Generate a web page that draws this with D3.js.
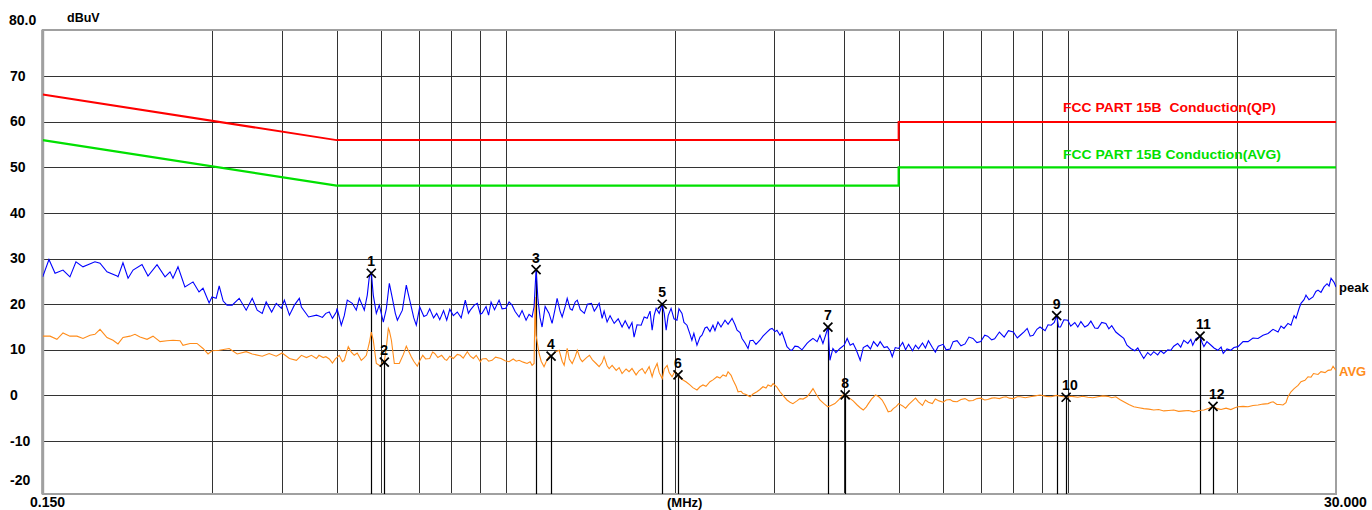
<!DOCTYPE html>
<html lang="en">
<head>
<meta charset="UTF-8">
<title>Conducted Emission - FCC Part 15B</title>
<script src="https://d3js.org/d3.v7.min.js"></script>
<style>
    body { margin: 0; background: #ffffff; overflow: hidden; }
    svg { display: block; }
    .lbl { font-family: "Liberation Sans", Arial, sans-serif; font-weight: bold; fill: #000; }
    .lim { font-family: "Liberation Sans", Arial, sans-serif; font-weight: bold; white-space: pre; }
</style>
</head>
<body>
<div id="chart"></div>
<script>
// ---- data ----
const xGridFreqs = [0.3, 0.4, 0.5, 0.6, 0.7, 0.8, 0.9, 1, 2, 3, 4, 5, 6, 7, 8, 9, 10, 20];
const yTicks = [70, 60, 50, 40, 30, 20, 10, 0, -10];

// FCC limit lines [MHz, dBuV]
const limitQP  = [[0.15, 66], [0.5, 56], [5, 56], [5, 60], [30, 60]];
const limitAVG = [[0.15, 56], [0.5, 46], [5, 46], [5, 50], [30, 50]];

// peak detector trace [MHz, dBuV]
const peakTrace = [
  [0.150,26.0],[0.1539,29.8],[0.1578,26.8],[0.1630,27.5],[0.1677,26.0],[0.1719,29.3],[0.1769,28.2],
  [0.1858,29.3],[0.1897,29.0],[0.1952,27.1],[0.2034,26.2],[0.2042,26.0],[0.2084,29.1],[0.2128,25.7],
  [0.2172,27.5],[0.2253,28.7],[0.2309,26.2],[0.2396,28.7],[0.2476,26.0],[0.2527,27.1],[0.2558,25.7],
  [0.2611,28.2],[0.2686,23.8],[0.2777,24.9],[0.2846,22.7],[0.2893,23.5],[0.2966,20.3],[0.3001,21.6],
  [0.3053,21.3],[0.3091,24.0],[0.3142,20.7],[0.3192,19.8],[0.3260,19.8],[0.3355,21.3],[0.3453,18.7],
  [0.3539,21.3],[0.3612,18.7],[0.3687,18.0],[0.3747,20.5],[0.3832,18.3],[0.3905,20.2],[0.3988,19.1],
  [0.4037,20.9],[0.4122,17.6],[0.4206,19.8],[0.4292,21.3],[0.4329,19.4],[0.4458,17.2],[0.4604,17.6],
  [0.4652,17.4],[0.4718,17.1],[0.4785,18.0],[0.4853,18.3],[0.4916,16.9],[0.4994,18.3],[0.5010,19.1],
  [0.5097,15.4],[0.5160,17.5],[0.5224,20.9],[0.5332,20.2],[0.5420,18.7],[0.5488,21.3],[0.5601,18.7],
  [0.5670,22.0],[0.5717,26.0],[0.5764,26.9],[0.5811,22.0],[0.5884,18.0],[0.5956,19.8],[0.6055,16.1],
  [0.6130,19.0],[0.6206,24.6],[0.6284,21.3],[0.6360,18.0],[0.6414,16.5],[0.6547,18.7],[0.6653,24.2],
  [0.6700,22.5],[0.6790,19.4],[0.6860,17.0],[0.6931,15.4],[0.7029,19.4],[0.7150,17.3],[0.7233,17.6],
  [0.7322,19.0],[0.7440,17.0],[0.7535,18.0],[0.7630,16.6],[0.7750,18.6],[0.7851,16.5],[0.7950,18.9],
  [0.8066,17.5],[0.8199,18.3],[0.8330,17.0],[0.8472,20.9],[0.8580,18.0],[0.8648,18.7],[0.8790,19.8],
  [0.8899,20.2],[0.9009,17.8],[0.9074,18.0],[0.9224,19.5],[0.9320,17.6],[0.9415,20.5],[0.9550,18.8],
  [0.9729,20.9],[0.9850,19.0],[1.000,19.1],[1.0136,20.5],[1.0261,19.8],[1.039,18.4],[1.056,17.2],
  [1.069,18.6],[1.0867,16.5],[1.100,17.8],[1.1137,17.2],[1.123,19.5],[1.1322,27.6],[1.141,21.0],
  [1.151,17.0],[1.1603,15.0],[1.175,19.5],[1.194,18.0],[1.2089,15.8],[1.224,19.0],[1.2341,21.3],
  [1.249,18.5],[1.2599,17.2],[1.276,19.6],[1.2861,21.3],[1.302,19.0],[1.3129,18.7],[1.329,20.5],
  [1.3403,20.9],[1.357,18.8],[1.3797,18.0],[1.397,20.0],[1.4203,20.2],[1.437,18.5],[1.4478,19.1],
  [1.4658,20.2],[1.484,16.9],[1.4961,18.5],[1.5145,16.1],[1.533,17.5],[1.5592,15.8],[1.585,16.8],
  [1.6103,15.0],[1.631,16.4],[1.657,14.7],[1.677,16.0],[1.6914,12.8],[1.712,15.5],[1.7412,15.4],
  [1.763,17.2],[1.7847,16.9],[1.806,18.5],[1.8215,14.3],[1.836,17.5],[1.8514,19.1],[1.875,18.0],
  [1.8981,20.0],[1.914,18.0],[1.929,14.3],[1.945,17.5],[1.9683,19.1],[1.992,16.8],[2.0164,16.5],
  [2.033,19.0],[2.0582,18.0],[2.075,16.0],[2.1008,15.4],[2.126,13.5],[2.1435,12.1],[2.161,13.6],
  [2.1886,11.0],[2.216,12.8],[2.2338,13.2],[2.262,14.8],[2.280,15.0],[2.3082,14.0],[2.3366,15.4],
  [2.356,14.2],[2.3853,16.1],[2.415,15.0],[2.455,16.5],[2.486,15.6],[2.5268,16.9],[2.558,15.5],
  [2.5794,14.3],[2.611,13.8],[2.6322,12.5],[2.665,11.5],[2.698,10.3],[2.720,12.0],[2.7526,12.1],
  [2.787,11.2],[2.8328,12.1],[2.868,13.0],[2.916,13.9],[2.952,14.5],[2.9774,14.7],[3.012,14.0],
  [3.0372,14.3],[3.0748,13.2],[3.1001,13.9],[3.139,12.0],[3.1642,10.7],[3.204,10.0],[3.2294,9.9],
  [3.269,10.8],[3.310,10.7],[3.365,10.0],[3.4348,11.4],[3.477,12.0],[3.5203,12.5],[3.580,11.8],
  [3.6216,13.2],[3.6669,11.4],[3.713,13.5],[3.7422,15.0],[3.773,7.7],[3.8197,10.3],[3.867,9.4],
  [3.9315,10.3],[4.000,11.0],[4.0493,12.5],[4.0996,11.0],[4.1503,11.4],[4.202,10.0],[4.2716,7.7],
  [4.3256,10.5],[4.3988,11.0],[4.455,10.2],[4.5117,11.8],[4.585,10.8],[4.6352,11.8],[4.712,10.5],
  [4.7707,10.7],[4.830,9.8],[4.8708,8.5],[4.931,10.5],[5.000,10.3],[5.083,11.6],[5.1445,10.0],
  [5.208,11.2],[5.293,9.8],[5.3582,11.0],[5.424,10.2],[5.513,11.5],[5.5801,10.4],[5.649,12.0],
  [5.741,10.5],[5.8112,9.5],[5.882,10.8],[6.000,11.2],[6.074,10.0],[6.1737,10.2],[6.251,11.8],
  [6.3521,12.0],[6.455,10.9],[6.5623,11.3],[6.670,12.8],[6.7799,12.5],[6.890,11.6],[7.000,11.8],
  [7.115,13.2],[7.2017,13.0],[7.320,12.2],[7.4094,12.4],[7.5548,13.9],[7.7052,12.8],[7.840,14.2],
  [8.000,13.9],[8.130,12.6],[8.2297,13.2],[8.365,14.0],[8.4664,14.7],[8.570,13.0],[8.676,13.2],
  [8.810,14.5],[8.9226,15.0],[9.110,14.2],[9.220,15.5],[9.3396,15.4],[9.460,16.0],[9.553,17.5],
  [9.630,15.0],[9.7047,15.0],[9.840,16.6],[10.00,16.5],[10.12,15.2],[10.29,16.0],[10.418,15.0],
  [10.55,16.2],[10.72,15.0],[10.854,15.4],[10.99,16.3],[11.17,14.8],[11.308,14.7],[11.49,16.0],
  [11.686,15.8],[11.83,14.6],[11.97,15.3],[12.172,13.9],[12.37,13.2],[12.577,12.5],[12.74,11.0],
  [12.944,10.3],[13.16,9.8],[13.32,10.4],[13.483,9.2],[13.648,8.1],[13.87,9.4],[14.04,8.8],
  [14.218,9.6],[14.45,8.9],[14.63,9.8],[14.815,9.2],[15.06,10.0],[15.244,9.9],[15.432,10.8],
  [15.683,11.4],[15.88,10.6],[16.078,12.1],[16.35,11.4],[16.55,12.3],[16.681,11.0],[16.89,12.4],
  [17.19,13.0],[17.33,11.6],[17.462,10.7],[17.68,11.8],[17.979,11.0],[18.20,10.4],[18.49,9.9],
  [18.737,10.6],[18.90,9.2],[19.20,10.2],[19.50,9.9],[19.75,10.5],[20.08,10.7],[20.50,11.8],
  [20.92,11.8],[21.35,12.6],[21.80,12.5],[22.25,13.2],[22.71,13.6],[23.18,14.5],[23.66,13.9],
  [23.95,15.2],[24.24,14.7],[24.64,15.8],[24.95,15.4],[25.27,17.5],[25.47,16.9],[25.78,19.0],
  [25.99,20.2],[26.32,21.0],[26.53,22.0],[26.86,21.0],[27.30,21.6],[27.63,22.8],[27.87,23.1],
  [28.21,22.6],[28.56,23.8],[28.92,24.5],[29.16,24.0],[29.40,25.7],[29.76,24.8],[30.00,23.8]
];

// average detector trace [MHz, dBuV]
const avgTrace = [
  [0.150,13.0],[0.1546,13.0],[0.1590,12.3],[0.1630,13.7],[0.1677,13.0],[0.1726,13.0],[0.1769,12.5],
  [0.1821,13.2],[0.1858,13.4],[0.1897,14.5],[0.1952,12.7],[0.2001,12.1],[0.2042,11.3],[0.2084,12.7],
  [0.2145,13.0],[0.2189,13.4],[0.2235,12.8],[0.2300,12.3],[0.2357,13.0],[0.2426,11.8],[0.2496,12.0],
  [0.2558,12.1],[0.2633,12.0],[0.2665,11.0],[0.2743,11.4],[0.2822,11.4],[0.2893,10.3],[0.2953,9.1],
  [0.3001,9.8],[0.3091,9.9],[0.3220,10.3],[0.3328,9.1],[0.3453,9.6],[0.3539,9.1],[0.3687,8.6],
  [0.3794,9.2],[0.3905,8.6],[0.4000,9.3],[0.4122,8.1],[0.4241,7.7],[0.4329,8.8],[0.4419,8.3],
  [0.4511,8.8],[0.4604,8.1],[0.4652,8.8],[0.4733,8.3],[0.4785,8.5],[0.4853,8.0],[0.4916,7.1],
  [0.4974,8.0],[0.5055,8.8],[0.5118,7.4],[0.5160,7.7],[0.5245,10.7],[0.5311,9.5],[0.5375,8.8],
  [0.5441,9.3],[0.5532,7.7],[0.5601,8.3],[0.5648,8.8],[0.5717,11.5],[0.5764,13.9],[0.5811,12.1],
  [0.5884,7.0],[0.5991,6.4],[0.6030,7.2],[0.6080,7.5],[0.6130,10.5],[0.6181,14.7],[0.6206,14.2],
  [0.6259,12.1],[0.6335,7.0],[0.6465,7.0],[0.6574,9.0],[0.6653,10.8],[0.6728,9.5],[0.6790,8.5],
  [0.6860,7.5],[0.6959,6.4],[0.7029,7.6],[0.7116,8.8],[0.7200,8.0],[0.7322,8.1],[0.7410,9.5],
  [0.7474,9.2],[0.7570,8.3],[0.7691,8.8],[0.7790,7.9],[0.7851,7.7],[0.7950,8.6],[0.8066,8.1],
  [0.8199,9.0],[0.8300,8.8],[0.8400,8.2],[0.8542,9.6],[0.8648,8.6],[0.8755,8.1],[0.8860,8.8],
  [0.9009,7.4],[0.9074,8.0],[0.9224,8.1],[0.9320,7.5],[0.9453,7.7],[0.9590,8.4],[0.9808,8.1],
  [0.997,7.6],[1.0136,7.4],[1.031,8.0],[1.044,7.5],[1.056,7.7],[1.074,7.3],[1.0911,7.0],
  [1.105,7.4],[1.1137,6.6],[1.123,7.0],[1.1276,21.6],[1.1322,13.2],[1.1462,9.2],[1.156,7.5],
  [1.1697,6.3],[1.184,7.8],[1.194,8.5],[1.2089,8.8],[1.224,9.5],[1.2443,9.9],[1.260,7.5],
  [1.2702,6.6],[1.2861,10.3],[1.297,8.0],[1.3129,7.0],[1.329,8.5],[1.3403,9.9],[1.357,8.0],
  [1.3683,7.4],[1.392,8.3],[1.4088,8.8],[1.426,7.8],[1.4478,7.0],[1.4658,6.3],[1.484,7.2],
  [1.4961,8.5],[1.5145,6.5],[1.5273,5.9],[1.546,6.6],[1.572,5.5],[1.591,6.1],[1.6103,4.8],
  [1.637,5.8],[1.657,5.2],[1.677,5.9],[1.7053,4.5],[1.726,5.4],[1.7483,5.9],[1.770,4.8],
  [1.7993,6.3],[1.8215,4.1],[1.836,5.6],[1.859,7.0],[1.875,5.0],[1.8981,3.7],[1.914,5.8],
  [1.9369,6.6],[1.953,5.0],[1.9762,4.1],[2.000,5.3],[2.0247,4.5],[2.041,3.8],[2.0667,3.4],
  [2.092,3.0],[2.126,2.3],[2.152,1.7],[2.1886,1.2],[2.216,1.9],[2.243,2.3],[2.271,2.0],
  [2.3082,3.0],[2.337,3.4],[2.3756,4.1],[2.405,3.8],[2.4348,4.5],[2.466,4.2],[2.486,5.2],
  [2.517,4.4],[2.537,3.4],[2.569,2.0],[2.590,0.8],[2.622,0.9],[2.643,0.4],[2.676,0.2],
  [2.7204,-0.3],[2.753,0.3],[2.7981,0.8],[2.833,1.3],[2.8679,1.9],[2.904,1.6],[2.928,2.3],
  [2.965,2.0],[2.9897,2.6],[3.037,1.8],[3.0748,0.8],[3.113,0.0],[3.1642,-1.0],[3.204,-1.5],
  [3.2426,-1.8],[3.296,-1.2],[3.3375,-0.7],[3.380,-0.8],[3.4348,-0.3],[3.477,0.5],[3.5203,1.5],
  [3.565,0.3],[3.6216,-1.0],[3.682,-1.8],[3.7422,-2.5],[3.788,-2.2],[3.8511,-1.8],[3.915,-0.9],
  [3.9801,0.1],[4.0163,0.2],[4.0493,-0.2],[4.0996,-0.7],[4.150,-1.2],[4.2188,-2.1],[4.2716,-2.7],
  [4.3256,-3.2],[4.380,-2.5],[4.4172,-1.8],[4.474,-0.8],[4.5502,0.1],[4.610,-0.3],[4.6734,-1.0],
  [4.732,-2.2],[4.7905,-3.6],[4.850,-3.4],[4.8911,-2.9],[4.953,-2.4],[5.000,-1.8],[5.083,-2.3],
  [5.1445,-2.8],[5.208,-2.0],[5.293,-1.2],[5.3582,-0.6],[5.424,-1.4],[5.513,-2.2],[5.5801,-1.0],
  [5.649,-1.5],[5.741,-1.8],[5.8112,-0.8],[5.900,-1.2],[6.000,-1.5],[6.074,-1.0],[6.1737,-0.9],
  [6.251,-1.3],[6.3521,-1.4],[6.455,-0.9],[6.5623,-0.7],[6.670,-1.2],[6.7799,-1.1],[6.890,-0.7],
  [7.000,-0.6],[7.115,-1.0],[7.2017,-0.9],[7.320,-0.6],[7.4094,-0.5],[7.5548,-0.7],[7.670,-0.4],
  [7.7664,-0.3],[7.870,-0.6],[8.000,-0.7],[8.130,-0.3],[8.2297,-0.3],[8.400,-0.5],[8.570,-0.3],
  [8.750,-0.1],[8.9226,0.1],[9.150,-0.2],[9.3396,-0.3],[9.536,0.0],[9.7047,-0.2],[9.950,-0.4],
  [10.17,-0.2],[10.418,-0.4],[10.63,-0.2],[10.854,-0.4],[11.08,-0.5],[11.308,-0.3],[11.54,-0.1],
  [11.781,-0.2],[11.97,-0.5],[12.172,-0.3],[12.37,-0.9],[12.577,-1.4],[12.84,-2.0],[13.103,-2.5],
  [13.38,-2.7],[13.648,-2.9],[13.93,-3.0],[14.218,-3.2],[14.51,-3.1],[14.815,-3.4],[15.12,-3.3],
  [15.432,-3.2],[15.75,-3.5],[16.078,-3.4],[16.41,-3.3],[16.743,-3.6],[17.118,-3.3],[17.462,-3.2],
  [17.83,-2.8],[18.127,-2.4],[18.43,-2.9],[18.737,-3.1],[19.12,-2.8],[19.50,-3.1],[19.83,-2.7],
  [20.08,-2.5],[20.50,-2.4],[20.92,-2.5],[21.35,-2.2],[21.80,-2.1],[22.25,-1.9],[22.71,-1.8],
  [23.00,-1.5],[23.19,-1.4],[23.55,-2.0],[23.83,-2.0],[24.14,-2.1],[24.44,-1.6],[24.64,-0.3],
  [24.95,0.8],[25.27,1.5],[25.68,2.2],[25.99,3.0],[26.42,3.3],[26.75,4.1],[27.08,4.0],
  [27.36,4.8],[27.87,4.6],[28.21,5.2],[28.68,5.0],[29.04,5.5],[29.40,5.6],[29.64,6.4],[30.00,5.5]
];

// measurement markers: number, frequency (MHz), level (dBuV)
const markerNo    = [1, 2, 3, 4, 5, 6, 7, 8, 9, 10, 11, 12];
const markerFreq  = [0.5764, 0.6080, 1.1322, 1.2039, 1.8981, 2.0247, 3.7422, 4.0163, 9.553, 9.93, 17.19, 18.127];
const markerLevel = [26.8, 7.3, 27.6, 8.6, 20.0, 4.5, 15.0, 0.1, 17.5, -0.4, 13.0, -2.4];

const limitNames = ["FCC PART 15B  Conduction(QP)", "FCC PART 15B Conduction(AVG)"];

// ---- layout ----
const W = 1372, H = 510;
const plot = { left: 42.7, right: 1336, top: 30, bottom: 494 };

const svg = d3.select("#chart").append("svg")
    .attr("width", W).attr("height", H);

const x = d3.scaleLog().domain([0.15, 30]).range([plot.left, plot.right]);
const y = d3.scaleLinear().domain([-20, 80]).range([486.6, 30.7]);

svg.append("defs").append("clipPath").attr("id", "plotclip")
  .append("rect")
    .attr("x", plot.left).attr("y", plot.top)
    .attr("width", plot.right - plot.left).attr("height", plot.bottom - plot.top);

// grid
const grid = svg.append("g").attr("stroke", "#333").attr("stroke-width", 1);
grid.selectAll("line.v").data(xGridFreqs).enter().append("line")
    .attr("x1", d => Math.round(x(d)) + 0.5).attr("x2", d => Math.round(x(d)) + 0.5)
    .attr("y1", plot.top).attr("y2", plot.bottom);
grid.selectAll("line.h").data(yTicks).enter().append("line")
    .attr("x1", plot.left).attr("x2", plot.right)
    .attr("y1", d => Math.round(y(d)) + 0.5).attr("y2", d => Math.round(y(d)) + 0.5);

// frame
svg.append("rect")
    .attr("x", plot.left).attr("y", plot.top)
    .attr("width", plot.right - plot.left).attr("height", plot.bottom - plot.top)
    .attr("fill", "none").attr("stroke", "#a0a0a0").attr("stroke-width", 2);
svg.append("line")
    .attr("x1", plot.left).attr("x2", plot.left).attr("y1", plot.top).attr("y2", plot.bottom)
    .attr("stroke", "#a0a0a0").attr("stroke-width", 3);

const line = d3.line().x(d => x(d[0])).y(d => y(d[1]));
const traces = svg.append("g").attr("clip-path", "url(#plotclip)");

traces.append("path").datum(limitAVG).attr("d", line)
    .attr("fill", "none").attr("stroke", "#00e000").attr("stroke-width", 2.2);
traces.append("path").datum(limitQP).attr("d", line)
    .attr("fill", "none").attr("stroke", "#ff0000").attr("stroke-width", 2);

// marker drop lines
const markers = markerNo.map((n, i) => ({ n: n, f: markerFreq[i], v: markerLevel[i] }));
traces.selectAll("line.mk").data(markers).enter().append("line")
    .attr("x1", d => Math.round(x(d.f)) + 0.5).attr("x2", d => Math.round(x(d.f)) + 0.5)
    .attr("y1", d => y(d.v)).attr("y2", plot.bottom)
    .attr("stroke", "#000").attr("stroke-width", 1.2);

traces.append("path").datum(avgTrace).attr("d", line)
    .attr("fill", "none").attr("stroke", "#ff8c1a").attr("stroke-width", 1.1);
traces.append("path").datum(peakTrace).attr("d", line)
    .attr("fill", "none").attr("stroke", "#0000ff").attr("stroke-width", 1.1);

// marker crosses + numbers
const mk = svg.append("g");
markers.forEach(d => {
    const cx = x(d.f), cy = y(d.v), s = 4.5;
    mk.append("path")
        .attr("d", `M${cx - s},${cy - s}L${cx + s},${cy + s}M${cx - s},${cy + s}L${cx + s},${cy - s}`)
        .attr("stroke", "#000").attr("stroke-width", 1.7).attr("fill", "none");
    mk.append("text").attr("class", "lbl")
        .attr("x", cx - 4).attr("y", cy - 7)
        .attr("font-size", 14)
        .text(d.n);
});

// y axis labels
svg.selectAll("text.yt").data(yTicks).enter().append("text")
    .attr("class", "lbl").attr("x", 10).attr("y", d => y(d) + 4.5)
    .attr("font-size", 14).text(d => d);
svg.append("text").attr("class", "lbl").attr("x", 9).attr("y", 25).attr("font-size", 14).text("80.0");
svg.append("text").attr("class", "lbl").attr("x", 10).attr("y", 485).attr("font-size", 14).text("-20");
svg.append("text").attr("class", "lbl").attr("x", 67).attr("y", 22).attr("font-size", 12.5).text("dBuV");

// x axis labels
svg.append("text").attr("class", "lbl").attr("x", 30).attr("y", 507).attr("font-size", 14).text("0.150");
svg.append("text").attr("class", "lbl").attr("x", 1324).attr("y", 507).attr("font-size", 14).text("30.000");
svg.append("text").attr("class", "lbl").attr("x", 667).attr("y", 507).attr("font-size", 13).text("(MHz)");

// limit names
svg.append("text").attr("class", "lim").attr("x", 1063).attr("y", 112)
    .attr("font-size", 13.5).attr("fill", "#ff0000")
    .attr("textLength", 213).attr("lengthAdjust", "spacingAndGlyphs")
    .text(limitNames[0]);
svg.append("text").attr("class", "lim").attr("x", 1063).attr("y", 159)
    .attr("font-size", 13.5).attr("fill", "#00e000")
    .attr("textLength", 218).attr("lengthAdjust", "spacingAndGlyphs")
    .text(limitNames[1]);

// trace names
svg.append("text").attr("class", "lbl").attr("x", 1339).attr("y", 292).attr("font-size", 13).text("peak");
svg.append("text").attr("class", "lbl").attr("x", 1339).attr("y", 376).attr("font-size", 13)
    .style("fill", "#ff8c1a").text("AVG");
</script>
</body>
</html>
